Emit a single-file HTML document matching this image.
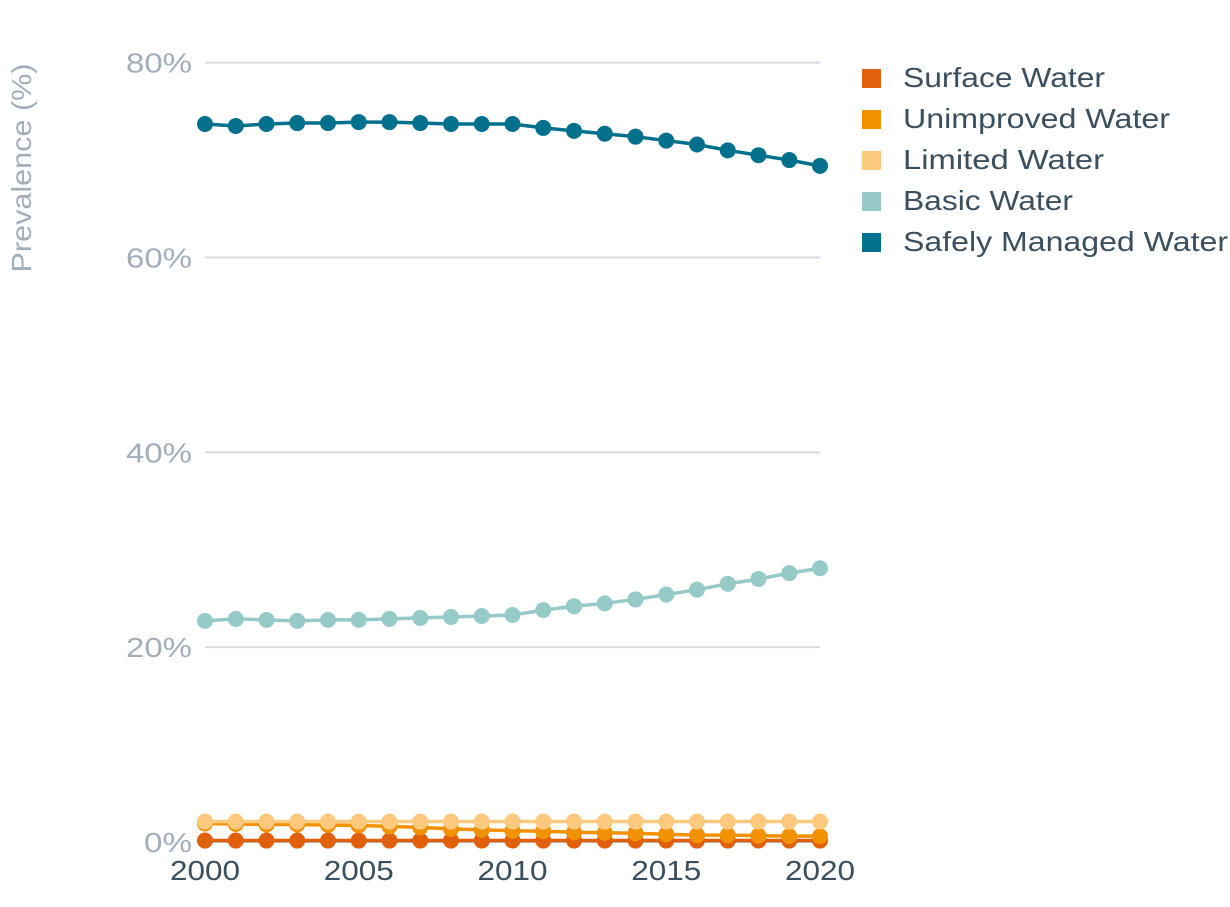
<!DOCTYPE html>
<html><head><meta charset="utf-8"><style>
body{margin:0;background:#fff;font-family:"Liberation Sans",sans-serif}
</style></head><body>
<svg id="chart" width="1230" height="902" xmlns="http://www.w3.org/2000/svg"></svg>
<script>
const years=[2000,2001,2002,2003,2004,2005,2006,2007,2008,2009,2010,2011,2012,2013,2014,2015,2016,2017,2018,2019,2020];
const surfaceWater=[0.15,0.15,0.15,0.15,0.15,0.15,0.15,0.15,0.15,0.15,0.15,0.15,0.15,0.15,0.15,0.15,0.15,0.15,0.15,0.15,0.15];
const unimprovedWater=[1.9,1.85,1.8,1.8,1.75,1.7,1.6,1.5,1.35,1.25,1.15,1.1,1.0,0.95,0.9,0.8,0.7,0.7,0.65,0.6,0.6];
const limitedWater=[2.1,2.1,2.1,2.1,2.1,2.1,2.1,2.1,2.1,2.1,2.1,2.1,2.1,2.1,2.1,2.1,2.1,2.1,2.1,2.1,2.1];
const basicWater=[22.7,22.9,22.8,22.7,22.8,22.8,22.9,23.0,23.1,23.2,23.3,23.8,24.2,24.5,24.9,25.4,25.9,26.5,27.0,27.6,28.1];
const safelyManagedWater=[73.7,73.5,73.7,73.8,73.8,73.9,73.9,73.8,73.7,73.7,73.7,73.3,73.0,72.7,72.4,72.0,71.6,71.0,70.5,70.0,69.4];
const yTicks=[0,20,40,60,80];
const xTicks=[2000,2005,2010,2015,2020];
const seriesNames=["Surface Water","Unimproved Water","Limited Water","Basic Water","Safely Managed Water"];
const seriesColors=["#e0600b","#f39200","#fdc97e","#95cac7","#00708d"];
const seriesData=[surfaceWater,unimprovedWater,limitedWater,basicWater,safelyManagedWater];

const svg=document.getElementById('chart');
const NS="http://www.w3.org/2000/svg";
const X=y=>205+(y-2000)*30.75;
const Y=v=>842-v*9.742;
function mk(t,a){const e=document.createElementNS(NS,t);for(const k in a)e.setAttribute(k,a[k]);svg.appendChild(e);return e;}

yTicks.forEach(t=>{
  if(t>0){const g=mk('line',{x1:205,x2:820,y1:Y(t),y2:Y(t),stroke:'#d5dbe3','stroke-width':2});
  
  }
  const l=mk('text',{x:192,y:Y(t)+10,'text-anchor':'end','font-size':28,fill:'#a3aebb',textLength:t>0?66:48,lengthAdjust:'spacingAndGlyphs'});
  l.textContent=t+'%';
  
  
});
const base=mk('line',{x1:205,x2:820,y1:842,y2:842,stroke:'#b8c0ca','stroke-width':2});


xTicks.forEach(t=>{
  const l=mk('text',{x:X(t),y:880,'text-anchor':'middle','font-size':28,fill:'#3b4f5e',textLength:70,lengthAdjust:'spacingAndGlyphs'});
  l.textContent=t;
  
  
});
const yt=mk('text',{x:0,y:0,transform:'translate(31,168) rotate(-90)','text-anchor':'middle','font-size':28,fill:'#a3aebb',textLength:209,lengthAdjust:'spacingAndGlyphs'});
yt.textContent='Prevalence (%)';



[0,1,2,3,4].forEach(i=>{
  const d=seriesData[i];
  const p=mk('polyline',{points:years.map((y,j)=>X(y)+','+Y(d[j])).join(' '),fill:'none',stroke:seriesColors[i],'stroke-width':3.5});
  
  
  years.forEach((y,j)=>{
    const c=mk('circle',{cx:X(y),cy:Y(d[j]),r:8,fill:seriesColors[i]});
    
    
  });
});

const legendLens=[202,267,201,170,325];
seriesNames.forEach((n,i)=>{
  const r=mk('rect',{x:862,y:69+i*41,width:19,height:19,fill:seriesColors[i]});
  
  
  const t=mk('text',{x:903,y:87+i*41,'font-size':28,fill:'#3b4f5e',textLength:legendLens[i],lengthAdjust:'spacingAndGlyphs'});
  t.textContent=n;
  
  
});
</script>
</body></html>
